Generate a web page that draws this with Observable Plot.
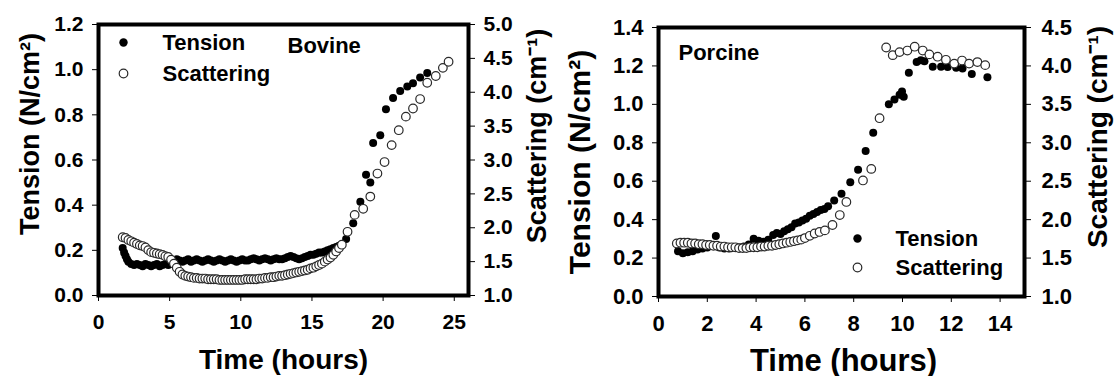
<!DOCTYPE html>
<html><head><meta charset="utf-8">
<script src="https://cdn.jsdelivr.net/npm/d3@7"></script>
<script src="https://cdn.jsdelivr.net/npm/@observablehq/plot@0.6"></script>
<style>
body{margin:0;background:#fff;}
#chart{position:relative;width:1117px;height:376px;overflow:hidden;}
.panel{position:absolute;top:0;height:376px;}
.panel svg{position:absolute;left:0;top:0;max-width:none;}
</style></head><body><div id="chart"></div>
<script>
// ---------- DATA ----------
const seriesNames = ["Tension", "Scattering"];
const panelNames = ["Bovine", "Porcine"];
const xTitle = "Time (hours)";
const tensionTitle = "Tension (N/cm\u00B2)";
const scatterTitle = "Scattering (cm\u207B\u00B9)";

const bovineXTicks = [0, 5, 10, 15, 20, 25];
const bovineTensionTicks = [0, 0.2, 0.4, 0.6, 0.8, 1.0, 1.2];
const bovineScatterTicks = [1.0, 1.5, 2.0, 2.5, 3.0, 3.5, 4.0, 4.5, 5.0];
const porcineXTicks = [0, 2, 4, 6, 8, 10, 12, 14];
const porcineTensionTicks = [0, 0.2, 0.4, 0.6, 0.8, 1.0, 1.2, 1.4];
const porcineScatterTicks = [1.0, 1.5, 2.0, 2.5, 3.0, 3.5, 4.0, 4.5];

const bovineTensionTime = [1.7,1.8,1.9,2.0,2.1,2.3,2.5,2.7,2.9,3.1,3.3,3.5,3.7,3.9,4.1,4.3,4.5,4.7,4.9,5.1,5.3,5.5,5.7,5.9,6.1,6.3,6.5,6.7,6.9,7.1,7.3,7.5,7.7,7.9,8.1,8.3,8.5,8.7,8.9,9.1,9.3,9.5,9.7,9.9,10.1,10.3,10.5,10.7,10.9,11.1,11.3,11.5,11.7,11.9,12.1,12.3,12.5,12.7,12.9,13.1,13.3,13.5,13.7,13.9,14.1,14.3,14.5,14.7,14.9,15.1,15.3,15.5,15.7,15.9,16.1,16.3,16.5,16.7,16.9,17.4,17.9,18.4,18.8,19.1,19.3,19.8,20.2,20.7,21.2,21.7,22.1,22.6,23.1];
const bovineTension = [0.21,0.19,0.175,0.16,0.15,0.14,0.135,0.14,0.135,0.13,0.14,0.135,0.13,0.135,0.14,0.13,0.135,0.14,0.135,0.14,0.15,0.16,0.155,0.15,0.155,0.16,0.15,0.155,0.16,0.155,0.15,0.155,0.16,0.155,0.15,0.155,0.16,0.155,0.15,0.155,0.16,0.155,0.15,0.155,0.16,0.155,0.155,0.16,0.165,0.16,0.155,0.16,0.165,0.16,0.155,0.16,0.165,0.16,0.16,0.165,0.17,0.175,0.17,0.165,0.16,0.165,0.17,0.175,0.18,0.18,0.185,0.19,0.19,0.195,0.2,0.205,0.21,0.215,0.22,0.25,0.32,0.415,0.535,0.5,0.675,0.71,0.825,0.875,0.905,0.925,0.94,0.965,0.985];

const bovineScatterTime = [1.7,1.9,2.1,2.3,2.5,2.7,2.9,3.1,3.3,3.5,3.7,3.9,4.1,4.3,4.5,4.7,4.9,5.1,5.3,5.5,5.7,5.9,6.1,6.3,6.5,6.7,6.9,7.1,7.3,7.5,7.7,7.9,8.1,8.3,8.5,8.7,8.9,9.1,9.3,9.5,9.7,9.9,10.1,10.3,10.5,10.7,10.9,11.1,11.3,11.5,11.7,11.9,12.1,12.3,12.5,12.7,12.9,13.1,13.3,13.5,13.7,13.9,14.1,14.3,14.5,14.7,14.9,15.1,15.3,15.5,15.7,15.9,16.1,16.3,16.5,16.7,16.9,17.1,17.5,18.0,18.6,19.1,19.6,20.1,20.6,21.1,21.6,22.1,22.6,23.1,23.7,24.2,24.6];
const bovineScatter = [1.86,1.85,1.82,1.80,1.78,1.76,1.74,1.73,1.71,1.67,1.64,1.63,1.62,1.61,1.60,1.58,1.57,1.53,1.47,1.41,1.35,1.31,1.29,1.28,1.27,1.26,1.26,1.25,1.25,1.25,1.24,1.24,1.24,1.24,1.23,1.23,1.23,1.23,1.23,1.23,1.23,1.23,1.23,1.24,1.24,1.24,1.24,1.24,1.25,1.25,1.26,1.26,1.27,1.27,1.28,1.29,1.29,1.30,1.31,1.32,1.33,1.34,1.35,1.36,1.37,1.38,1.40,1.41,1.43,1.45,1.47,1.50,1.53,1.56,1.60,1.65,1.70,1.75,1.94,2.19,2.28,2.46,2.80,2.97,3.22,3.44,3.64,3.76,3.90,4.14,4.24,4.36,4.45];

const porcineTensionTime = [0.8,1.0,1.2,1.4,1.6,1.8,2.0,2.35,2.5,2.7,2.9,3.1,3.3,3.5,3.7,3.9,4.1,4.3,4.5,4.7,4.85,5.0,5.15,5.3,5.45,5.6,5.75,5.9,6.05,6.2,6.35,6.5,6.65,6.8,6.95,7.2,7.5,7.86,8.18,8.49,8.8,9.44,9.67,9.88,9.98,10.05,10.26,10.58,10.75,10.9,11.24,11.58,11.85,12.2,12.46,12.84,13.48];
const porcineTension = [0.235,0.225,0.23,0.235,0.245,0.25,0.255,0.315,0.255,0.25,0.25,0.255,0.255,0.26,0.27,0.30,0.29,0.285,0.295,0.32,0.33,0.325,0.34,0.35,0.36,0.38,0.385,0.395,0.405,0.42,0.43,0.44,0.45,0.455,0.47,0.50,0.535,0.595,0.66,0.757,0.852,1.0,1.025,1.05,1.067,1.04,1.165,1.22,1.23,1.225,1.196,1.196,1.195,1.19,1.187,1.158,1.141];

const porcineScatterTime = [0.75,0.9,1.05,1.2,1.35,1.5,1.65,1.8,1.95,2.1,2.25,2.4,2.55,2.7,2.85,3.0,3.15,3.3,3.45,3.6,3.75,3.9,4.05,4.2,4.35,4.5,4.65,4.8,4.95,5.1,5.25,5.4,5.55,5.7,5.85,6.0,6.2,6.4,6.6,6.82,7.13,7.43,7.7,8.38,8.72,9.06,9.33,9.6,9.88,10.2,10.5,10.83,11.1,11.44,11.78,12.12,12.44,12.73,13.07,13.39];
const porcineScatter = [1.69,1.70,1.70,1.70,1.69,1.69,1.68,1.68,1.67,1.67,1.66,1.66,1.65,1.65,1.64,1.64,1.64,1.63,1.63,1.63,1.64,1.64,1.64,1.65,1.65,1.66,1.66,1.67,1.68,1.69,1.70,1.71,1.72,1.73,1.74,1.76,1.79,1.82,1.84,1.86,1.93,2.06,2.23,2.51,2.66,3.32,4.24,4.14,4.18,4.20,4.25,4.20,4.15,4.12,4.08,4.03,4.07,4.03,4.05,4.01];

// ---------- DRAW ----------
const FONT = '"Liberation Sans", Arial, Helvetica, sans-serif';
const zip = (t, v) => t.map((d, i) => ({t: d, v: v[i]}));
const fmt1 = d3.format(".1f");

function drawPanel(c) {
  const div = document.createElement("div");
  div.className = "panel";
  div.style.left = c.left + "px";
  div.style.width = c.width + "px";
  document.getElementById("chart").appendChild(div);
  const common = {width: c.width, height: 376, marginLeft: c.ml, marginRight: c.mr, marginTop: c.mt, marginBottom: c.mb};
  const style = {fontFamily: FONT, fontSize: c.tickFont + "px", fontWeight: "bold", color: "black", background: "transparent", overflow: "visible"};
  const txt = {fontFamily: FONT, fontWeight: "bold", fill: "black"};
  const leg = {...txt, text: d => d, frameAnchor: "top-left", textAnchor: "start", lineAnchor: "middle", fontSize: 22};

  const base = Plot.plot({
    ...common, style,
    x: {domain: c.xDomain, ticks: c.xTicks, tickSize: 6, tickPadding: 13, label: null},
    y: {domain: c.yDomain, ticks: c.yTicks, tickFormat: fmt1, tickSize: 6, tickPadding: c.leftPad, label: null},
    marks: [
      Plot.dot(zip(c.tTime, c.tVal), {x: "t", y: "v", r: 4, fill: "black"}),
      Plot.text([tensionTitle], {...txt, text: d => d, frameAnchor: "left", textAnchor: "middle", lineAnchor: "middle", dx: c.tTitle[0], dy: c.tTitle[1], rotate: -90, fontSize: c.tTitle[2]}),
      Plot.text([xTitle], {...txt, text: d => d, frameAnchor: "bottom", textAnchor: "middle", dx: c.xTitle[0], dy: c.xTitle[1], lineAnchor: "bottom", fontSize: c.xTitle[2]}),
      Plot.dot([seriesNames[0]], {frameAnchor: "top-left", dx: c.leg[0], dy: c.leg[1], r: 4.2, fill: "black"}),
      Plot.text([seriesNames[0]], {...leg, dx: c.leg[2], dy: c.leg[1]}),
      Plot.text([seriesNames[1]], {...leg, dx: c.leg[2], dy: c.leg[3]}),
      Plot.text([c.name], {...leg, dx: c.nameAt[0], dy: c.nameAt[1]}),
      Plot.frame({stroke: "black", strokeWidth: 4})
    ]
  });
  const over = Plot.plot({
    ...common, style,
    x: {domain: c.xDomain, axis: null},
    y: {domain: c.sDomain, axis: "right", ticks: c.sTicks, tickFormat: fmt1, tickSize: 6, tickPadding: c.rightPad, label: null},
    marks: [
      Plot.dot(zip(c.sTime, c.sVal), {x: "t", y: "v", r: 4.3, fill: "white", stroke: "#2a2a2a", strokeWidth: 1.2}),
      Plot.dot([seriesNames[1]], {frameAnchor: "top-left", dx: c.leg[0], dy: c.leg[3], r: 4.3, fill: "white", stroke: "#2a2a2a", strokeWidth: 1.2}),
      Plot.text([scatterTitle], {...txt, text: d => d, frameAnchor: "right", textAnchor: "middle", lineAnchor: "middle", dx: c.sTitle[0], dy: c.sTitle[1], rotate: -90, fontSize: c.sTitle[2]})
    ]
  });
  div.appendChild(base);
  div.appendChild(over);
}

drawPanel({
  left: 0, width: 560, ml: 98, mr: 92, mt: 24, mb: 81, tickFont: 21, leftPad: 9, rightPad: 9,
  xDomain: [0, 26], xTicks: bovineXTicks, yDomain: [0, 1.2], yTicks: bovineTensionTicks,
  sDomain: [1, 5], sTicks: bovineScatterTicks,
  tTime: bovineTensionTime, tVal: bovineTension, sTime: bovineScatterTime, sVal: bovineScatter,
  name: panelNames[0], nameAt: [189, 21],
  leg: [25, 18, 64, 49],
  tTitle: [-68, -26, 27], sTitle: [69, -24, 27], xTitle: [0, 73, 28]
});
drawPanel({
  left: 560, width: 557, ml: 98, mr: 93, mt: 27, mb: 80, tickFont: 22, leftPad: 9, rightPad: 11,
  xDomain: [0, 15], xTicks: porcineXTicks, yDomain: [0, 1.4], yTicks: porcineTensionTicks,
  sDomain: [1, 4.5], sTicks: porcineScatterTicks,
  tTime: porcineTensionTime, tVal: porcineTension, sTime: porcineScatterTime, sVal: porcineScatter,
  name: panelNames[1], nameAt: [20, 25],
  leg: [199, 211, 237, 240],
  tTitle: [-78, 0, 30], sTitle: [74, -25, 28], xTitle: [2, 74, 31]
});
</script></body></html>
